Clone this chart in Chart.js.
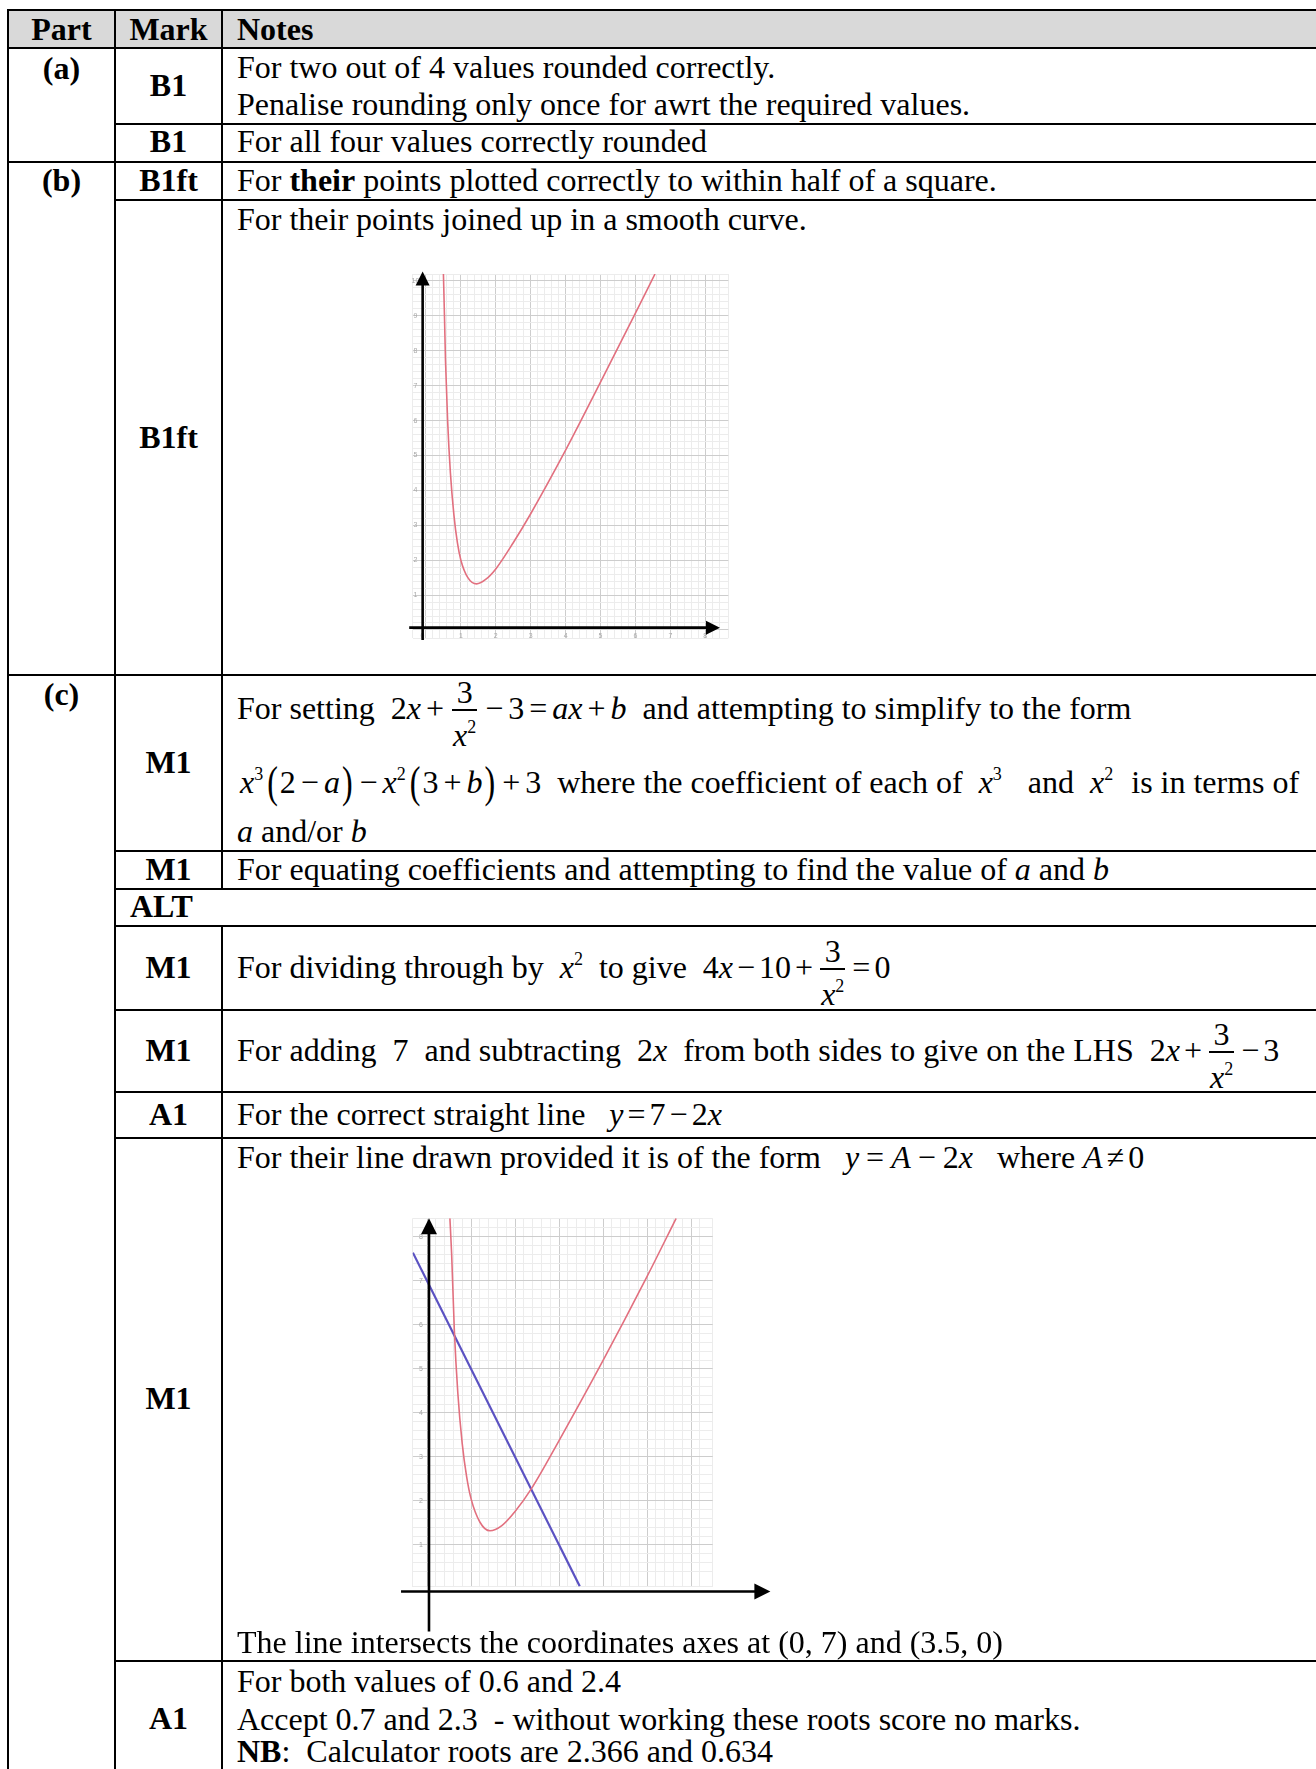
<!DOCTYPE html>
<html>
<head>
<meta charset="utf-8">
<title>Mark scheme</title>
<script src="https://cdn.jsdelivr.net/npm/chart.js@4.4.1/dist/chart.umd.min.js"></script>
<style>
  body { margin: 0; background: #fff; }
  #page { position: relative; width: 1316px; height: 1769px; overflow: hidden;
          font-family: "Liberation Serif", "Times New Roman", serif; font-size: 32px; color: #000; }
  .t { position: absolute; line-height: 37px; white-space: nowrap; }
  .c1 { left: 8px; width: 107px; text-align: center; font-weight: bold; }
  .c2 { left: 115px; width: 107px; text-align: center; font-weight: bold; }
  .n { left: 237px; }
  .h { position: absolute; height: 2px; background: #000; }
  .v { position: absolute; width: 2px; background: #000; }
  sup { font-size: 18px; line-height: 0; vertical-align: 13px; }
  .op { margin: 0 4px; }
  .op2 { margin: 0 7px; }
  .frac { display: inline-block; position: relative; margin: 0 3px; }
  .frac .num { position: absolute; left: 0; right: 0; top: -16px; text-align: center; }
  .frac .bar { position: absolute; left: 0; right: 0; top: 19px; height: 1.5px; background: #000; }
  .frac .den { display: block; position: relative; top: 27px; padding: 0 1px; }
  .bp { display: inline-block; transform: scaleY(1.4); margin: 0 2px; }
  .f1 .op { margin: 0 5px; }
  .f2 .op { margin: 0 5px; }
  .f2 sup { margin-right: 2px; }
  canvas { position: absolute; }
</style>
</head>
<body>
<div id="page">
  <div style="position:absolute;left:8px;top:10px;width:1308px;height:38px;background:#d9d9d9"></div>

  <canvas id="graphB" width="340" height="390" style="left:400px;top:262px"></canvas>
  <canvas id="graphC" width="390" height="440" style="left:395px;top:1205px"></canvas>

  <!-- rules -->
  <div class="h" style="top:9px;left:7px;width:1309px"></div>
  <div class="h" style="top:47px;left:7px;width:1309px"></div>
  <div class="h" style="top:123px;left:115px;width:1201px"></div>
  <div class="h" style="top:161px;left:7px;width:1309px"></div>
  <div class="h" style="top:199px;left:115px;width:1201px"></div>
  <div class="h" style="top:674px;left:7px;width:1309px"></div>
  <div class="h" style="top:850px;left:115px;width:1201px"></div>
  <div class="h" style="top:888px;left:115px;width:1201px"></div>
  <div class="h" style="top:925px;left:115px;width:1201px"></div>
  <div class="h" style="top:1009px;left:115px;width:1201px"></div>
  <div class="h" style="top:1091px;left:115px;width:1201px"></div>
  <div class="h" style="top:1137px;left:115px;width:1201px"></div>
  <div class="h" style="top:1660px;left:115px;width:1201px"></div>
  <div class="v" style="left:7px;top:9px;height:1760px"></div>
  <div class="v" style="left:114px;top:9px;height:1760px"></div>
  <div class="v" style="left:221px;top:9px;height:880px"></div>
  <div class="v" style="left:221px;top:925px;height:844px"></div>

  <!-- header -->
  <div class="t c1" style="top:11px">Part</div>
  <div class="t c2" style="top:11px">Mark</div>
  <div class="t n" style="top:11px;font-weight:bold">Notes</div>

  <!-- (a) -->
  <div class="t c1" style="top:50px">(a)</div>
  <div class="t c2" style="top:67px">B1</div>
  <div class="t n" style="top:49px">For two out of 4 values rounded correctly.</div>
  <div class="t n" style="top:86px">Penalise rounding only once for awrt the required values.</div>
  <div class="t c2" style="top:123px">B1</div>
  <div class="t n" style="top:123px">For all four values correctly rounded</div>

  <!-- (b) -->
  <div class="t c1" style="top:162px">(b)</div>
  <div class="t c2" style="top:162px">B1ft</div>
  <div class="t n" style="top:162px">For <b>their</b> points plotted correctly to within half of a square.</div>
  <div class="t n" style="top:201px">For their points joined up in a smooth curve.</div>
  <div class="t c2" style="top:419px">B1ft</div>

  <!-- (c) -->
  <div class="t c1" style="top:676px">(c)</div>
  <div class="t c2" style="top:744px">M1</div>
  <div class="t n f1" style="top:690px">For setting &nbsp;2<i>x</i><span class="op">+</span><span class="frac"><span class="num">3</span><span class="bar"></span><span class="den"><i>x</i><sup>2</sup></span></span><span class="op">−</span>3<span class="op">=</span><i>ax</i><span class="op">+</span><i>b</i>&nbsp; and attempting to simplify to the form</div>
  <div class="t n f2" style="top:764px;left:240px"><i>x</i><sup>3</sup><span class="bp">(</span>2<span class="op">−</span><i>a</i><span class="bp">)</span><span class="op">−</span><i>x</i><sup>2</sup><span class="bp">(</span>3<span class="op">+</span><i>b</i><span class="bp">)</span><span class="op">+</span>3 &nbsp;where the coefficient of each of &nbsp;<i>x</i><sup>3</sup>&nbsp;&nbsp; and &nbsp;<i>x</i><sup>2</sup>&nbsp; is in terms of</div>
  <div class="t n" style="top:813px"><i>a</i> and/or <i>b</i></div>

  <div class="t c2" style="top:851px">M1</div>
  <div class="t n" style="top:851px">For equating coefficients and attempting to find the value of <i>a</i> and <i>b</i></div>

  <div class="t" style="top:888px;left:130px;font-weight:bold">ALT</div>

  <div class="t c2" style="top:949px">M1</div>
  <div class="t n" style="top:949px">For dividing through by &nbsp;<i>x</i><sup>2</sup>&nbsp; to give &nbsp;4<i>x</i><span class="op">−</span>10<span class="op">+</span><span class="frac"><span class="num">3</span><span class="bar"></span><span class="den"><i>x</i><sup>2</sup></span></span><span class="op">=</span>0</div>

  <div class="t c2" style="top:1032px">M1</div>
  <div class="t n" style="top:1032px">For adding &nbsp;7&nbsp; and subtracting &nbsp;2<i>x</i>&nbsp; from both sides to give on the LHS &nbsp;2<i>x</i><span class="op">+</span><span class="frac"><span class="num">3</span><span class="bar"></span><span class="den"><i>x</i><sup>2</sup></span></span><span class="op">−</span>3</div>

  <div class="t c2" style="top:1096px">A1</div>
  <div class="t n" style="top:1096px">For the correct straight line &nbsp;&nbsp;<i>y</i><span class="op">=</span>7<span class="op">−</span>2<i>x</i></div>

  <div class="t n" style="top:1139px">For their line drawn provided it is of the form &nbsp;&nbsp;<i>y</i><span class="op2">=</span><i>A</i><span class="op2">−</span>2<i>x</i>&nbsp;&nbsp; where <i>A</i><span class="op">≠</span>0</div>
  <div class="t c2" style="top:1380px">M1</div>
  <div class="t n" style="top:1624px">The line intersects the coordinates axes at (0, 7) and (3.5, 0)</div>

  <div class="t c2" style="top:1700px">A1</div>
  <div class="t n" style="top:1663px">For both values of 0.6 and 2.4</div>
  <div class="t n" style="top:1701.5px;line-height:34px">Accept 0.7 and 2.3 &nbsp;- without working these roots score no marks.</div>
  <div class="t n" style="top:1736px;line-height:30px"><b>NB</b>: &nbsp;Calculator roots are 2.366 and 0.634</div>
</div>

<script>
// part (b): their smooth curve
const curveBX = [0.50, 0.53, 0.56, 0.62, 0.70, 0.80, 0.90, 1.00, 1.20, 1.45, 1.70, 2.00, 2.50, 3.00, 4.00, 5.00, 6.00, 6.56];
const curveBY = [10.2, 9.0, 7.7, 6.0, 4.5, 3.3, 2.5, 2.0, 1.5, 1.32, 1.44, 1.75, 2.5, 3.33, 5.15, 7.1, 9.08, 10.2];

// part (c): same curve plus the line y = 7 - 2x
const curveCX = [0.52, 0.56, 0.62, 0.70, 0.80, 0.90, 1.00, 1.20, 1.43, 1.70, 2.00, 2.38, 3.00, 4.00, 5.00, 5.66];
const curveCY = [8.42, 7.6, 5.9, 4.45, 3.3, 2.55, 2.05, 1.52, 1.32, 1.44, 1.76, 2.29, 3.37, 5.19, 7.1, 8.42];
const lineCX = [-0.32, 3.47];
const lineCY = [7.64, 0.06];

// tick labels (the faint numbers on the grid)
const xTicksB = [1, 2, 3, 4, 5, 6, 7, 8];
const yTicksB = [1, 2, 3, 4, 5, 6, 7, 8, 9, 10];
const yTicksC = [1, 2, 3, 4, 5, 6, 7, 8];

const curveRed = '#e2707f';
const lineBlue = '#5b52c2';
const majorGrid = '#cdcdcd';
const minorGrid = '#ececec';

function pts(xs, ys) {
  return xs.map(function(x, i) { return { x: x, y: ys[i] }; });
}

function isMajor(v) {
  return Math.abs(v - Math.round(v)) < 1e-6;
}

function gridScale(min, max) {
  return {
    type: 'linear',
    min: min,
    max: max,
    border: { display: false },
    grid: {
      drawTicks: false,
      lineWidth: 1,
      color: function(c) { return c.tick && isMajor(c.tick.value) ? majorGrid : minorGrid; }
    },
    ticks: { display: false, stepSize: 0.2, maxTicksLimit: 1000, autoSkip: false }
  };
}

// hand drawn looking axes with arrow heads + tiny grid numbers
const axisArrows = {
  id: 'axisArrows',
  afterDatasetsDraw(chart, args, o) {
    const ctx = chart.ctx;
    const x = chart.scales.x, y = chart.scales.y;
    ctx.save();
    ctx.fillStyle = '#a9a9a9';
    ctx.font = '7px Arial';
    ctx.textAlign = 'center';
    ctx.textBaseline = 'middle';
    if (o.zeroLabel) ctx.fillText('0', x.getPixelForValue(o.zeroLabel.x), y.getPixelForValue(o.zeroLabel.y));
    (o.xTicks || []).forEach(function(v) {
      ctx.fillText(String(v), x.getPixelForValue(v), y.getPixelForValue(o.xLabelAt));
    });
    (o.yTicks || []).forEach(function(v) {
      ctx.fillText(String(v), x.getPixelForValue(o.yLabelAt), y.getPixelForValue(v));
    });

    ctx.strokeStyle = '#000';
    ctx.fillStyle = '#000';
    ctx.lineWidth = o.width;
    const hw = o.head / 2;

    const vx = x.getPixelForValue(o.vAxis.x);
    const vb = y.getPixelForValue(o.vAxis.from);
    const vt = y.getPixelForValue(o.vAxis.to);
    ctx.beginPath();
    ctx.moveTo(vx, vb);
    ctx.lineTo(vx, vt + o.head - 2);
    ctx.stroke();
    ctx.beginPath();
    ctx.moveTo(vx, vt);
    ctx.lineTo(vx - hw, vt + o.head);
    ctx.lineTo(vx + hw, vt + o.head);
    ctx.closePath();
    ctx.fill();

    const hy = y.getPixelForValue(o.hAxis.y);
    const hl = x.getPixelForValue(o.hAxis.from);
    const hr = x.getPixelForValue(o.hAxis.to);
    ctx.beginPath();
    ctx.moveTo(hl, hy);
    ctx.lineTo(hr - o.head + 2, hy);
    ctx.stroke();
    ctx.beginPath();
    ctx.moveTo(hr, hy);
    ctx.lineTo(hr - o.head, hy - hw);
    ctx.lineTo(hr - o.head, hy + hw);
    ctx.closePath();
    ctx.fill();
    ctx.restore();
  }
};

new Chart(document.getElementById('graphB'), {
  type: 'scatter',
  data: {
    datasets: [{
      data: pts(curveBX, curveBY),
      showLine: true,
      borderColor: curveRed,
      borderWidth: 1.6,
      pointRadius: 0,
      cubicInterpolationMode: 'monotone'
    }]
  },
  options: {
    responsive: false,
    animation: false,
    events: [],
    layout: { padding: { left: 12.7, right: 11.7, top: 12, bottom: 14 } },
    plugins: {
      legend: { display: false },
      tooltip: { enabled: false },
      axisArrows: {
        width: 2.6, head: 14,
        vAxis: { x: -0.095, from: -0.29, to: 10.27 },
        hAxis: { y: 0.066, from: -0.48, to: 8.42 },
        zeroLabel: { x: -0.1, y: -0.18 },
        xTicks: xTicksB, xLabelAt: -0.18,
        yTicks: yTicksB, yLabelAt: -0.3
      }
    },
    scales: { x: gridScale(-0.38, 8.66), y: gridScale(-0.23, 10.2) }
  },
  plugins: [axisArrows]
});

new Chart(document.getElementById('graphC'), {
  type: 'scatter',
  data: {
    datasets: [{
      data: pts(curveCX, curveCY),
      showLine: true,
      borderColor: curveRed,
      borderWidth: 1.6,
      pointRadius: 0,
      cubicInterpolationMode: 'monotone'
    }, {
      data: pts(lineCX, lineCY),
      showLine: true,
      borderColor: lineBlue,
      borderWidth: 2.2,
      pointRadius: 0
    }]
  },
  options: {
    responsive: false,
    animation: false,
    events: [],
    layout: { padding: { left: 17.7, right: 72.3, top: 13.3, bottom: 58.3 } },
    plugins: {
      legend: { display: false },
      tooltip: { enabled: false },
      axisArrows: {
        width: 2.6, head: 16,
        vAxis: { x: 0.045, from: -0.97, to: 8.42 },
        hAxis: { y: -0.06, from: -0.59, to: 7.8 },
        yTicks: yTicksC, yLabelAt: -0.14
      }
    },
    scales: { x: gridScale(-0.325, 6.49), y: gridScale(0.05, 8.42) }
  },
  plugins: [axisArrows]
});
</script>
</body>
</html>
